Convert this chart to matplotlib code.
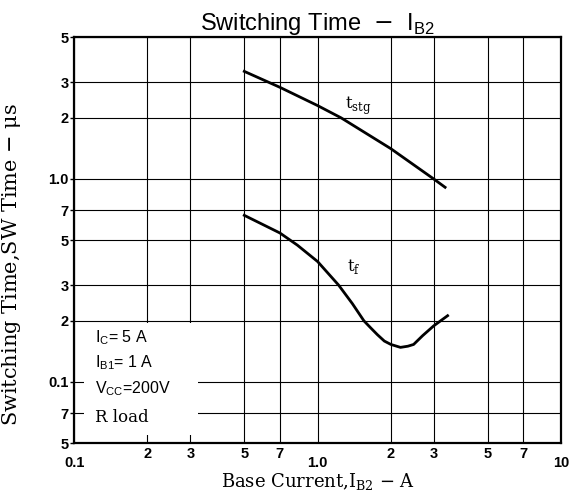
import matplotlib
matplotlib.use("Agg")
import matplotlib.pyplot as plt
from matplotlib.ticker import FixedLocator, FixedFormatter, NullFormatter
from matplotlib.patches import Rectangle

plt.rcParams["mathtext.fontset"] = "custom"
plt.rcParams["mathtext.rm"] = "DejaVu Serif"
plt.rcParams["mathtext.sf"] = "Liberation Sans"

# storage time t_stg (us) vs I_B2 (A)
tstg_x = [0.5, 0.7, 1.0, 1.25, 2.0, 3.0, 3.34]
tstg_y = [3.39, 2.83, 2.30, 2.0, 1.41, 1.0, 0.91]

# fall time t_f (us) vs I_B2 (A)
tf_x = [0.5, 0.7, 0.826, 1.0, 1.22, 1.39, 1.55, 1.65, 1.76, 1.88, 2.0, 2.19,
        2.35, 2.48, 2.7, 3.0, 3.42]
tf_y = [0.662, 0.542, 0.472, 0.392, 0.30, 0.243, 0.20, 0.185, 0.171, 0.159,
        0.153, 0.148, 0.150, 0.153, 0.169, 0.189, 0.212]

x_major = [0.1, 1.0, 10]
x_major_labels = ["0.1", "1.0", "10"]
x_minor = [0.2, 0.3, 0.5, 0.7, 2, 3, 5, 7]
x_minor_labels = ["2", "3", "5", "7", "2", "3", "5", "7"]

y_ticks = [0.05, 0.07, 0.1, 0.2, 0.3, 0.5, 0.7, 1.0, 2, 3, 5]
y_labels = ["5", "7", "0.1", "2", "3", "5", "7", "1.0", "2", "3", "5"]

conditions = [r"I$_\mathsf{C}$= 5 A", r"I$_\mathsf{B1}$= 1 A", r"V$_\mathsf{CC}$=200V"]
cond_y = [0.165, 0.125, 0.093]

fig = plt.figure(figsize=(5.79, 4.95), dpi=100)
ax = fig.add_axes([0.128, 0.105, 0.841, 0.82])
ax.set_xscale("log")
ax.set_yscale("log")
ax.set_xlim(0.1, 10)
ax.set_ylim(0.05, 5)

ax.xaxis.set_major_locator(FixedLocator(x_major))
ax.xaxis.set_major_formatter(FixedFormatter(x_major_labels))
ax.xaxis.set_minor_locator(FixedLocator(x_minor))
ax.xaxis.set_minor_formatter(FixedFormatter(x_minor_labels))
ax.yaxis.set_major_locator(FixedLocator(y_ticks))
ax.yaxis.set_major_formatter(FixedFormatter(y_labels))
ax.yaxis.set_minor_formatter(NullFormatter())
ax.yaxis.set_minor_locator(FixedLocator([]))

for lab in ax.get_xticklabels(which="both") + ax.get_yticklabels():
    lab.set_fontfamily("Liberation Sans")
    lab.set_fontweight("bold")
    lab.set_fontsize(10.5)
ax.tick_params(axis="x", which="major", length=0, pad=9)
ax.tick_params(axis="x", which="minor", length=0, pad=3)
ax.tick_params(axis="y", length=3, pad=1, width=1)

ax.grid(True, which="both", color="black", lw=0.8)
for s in ax.spines.values():
    s.set_linewidth(1.6)

# blank area behind the test conditions
ax.add_patch(Rectangle((0.02, 0.02), 0.235, 0.275, transform=ax.transAxes,
                       facecolor="white", edgecolor="none", zorder=2))

ax.plot(tstg_x, tstg_y, color="black", lw=2, zorder=3)
ax.plot(tf_x, tf_y, color="black", lw=2, zorder=3)
ax.text(1.3, 2.3, r"t$_\mathrm{stg}$", fontsize=12, family="DejaVu Serif",
        va="center", zorder=4)
ax.text(1.32, 0.37, r"t$_\mathrm{f}$", fontsize=12, family="DejaVu Serif",
        va="center", zorder=4)

for txt, yy in zip(conditions, cond_y):
    ax.text(0.122, yy, txt, fontsize=11.5, family="Liberation Sans",
            va="center", zorder=4)
ax.text(0.122, 0.067, "R load", fontsize=12, family="DejaVu Serif",
        va="center", zorder=4)

ax.set_title(r"Switching Time  $-$  I$_\mathsf{B2}$", fontsize=17,
             family="Liberation Sans", pad=5)
ax.set_xlabel(r"Base Current,I$_\mathrm{B2}$ $-$ A", fontsize=13,
              family="DejaVu Serif", labelpad=1)
ax.set_ylabel(r"Switching Time,SW Time $-$ $\mathrm{\mu}$s", fontsize=15,
              family="DejaVu Serif")
ax.yaxis.set_label_coords(-0.105, 0.44)

fig.savefig("out.png", dpi=100)
